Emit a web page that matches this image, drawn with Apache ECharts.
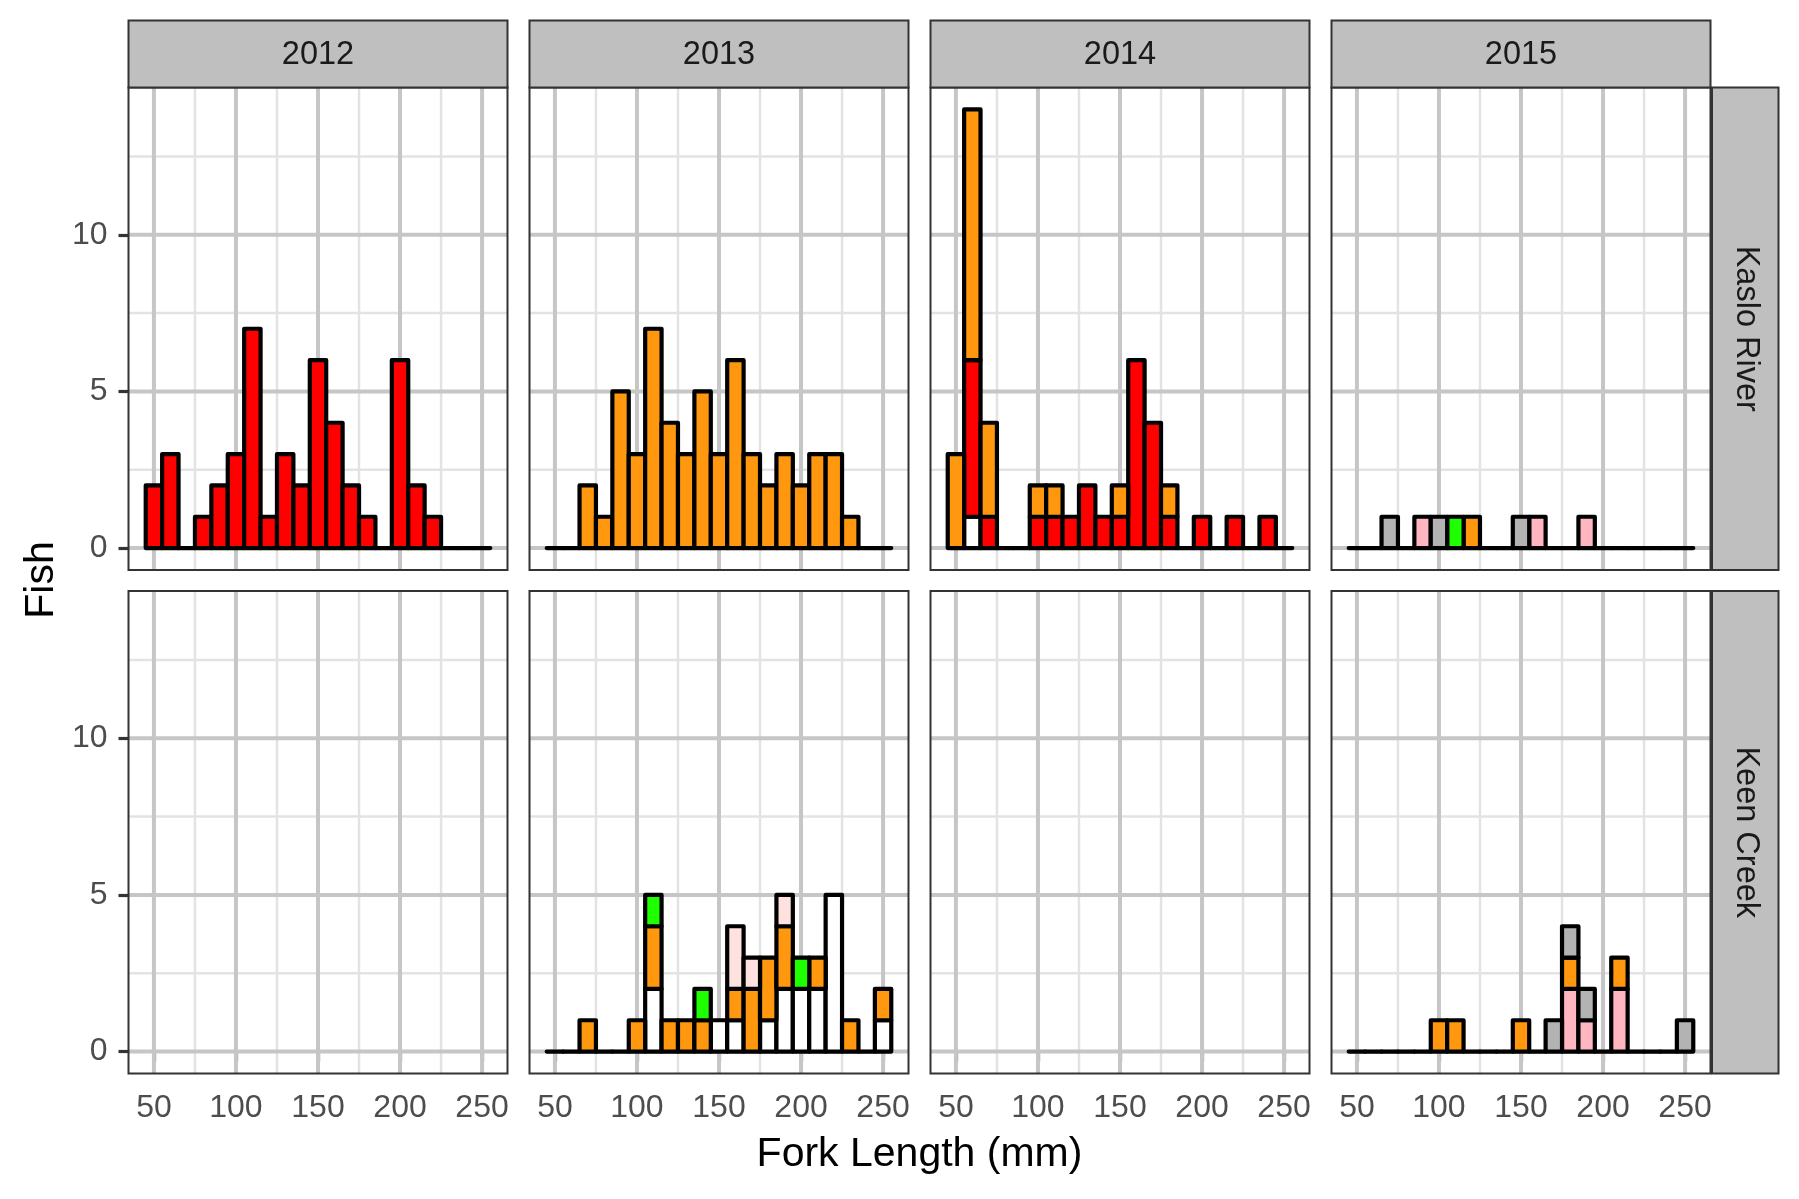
<!DOCTYPE html>
<html><head><meta charset="utf-8">
<script src="https://cdn.jsdelivr.net/npm/echarts@6/dist/echarts.min.js"></script>
<style>html,body{margin:0;padding:0;background:#fff}#c{width:1799px;height:1199px}</style>
</head><body><div id="c"></div>
<script>
// ---------- DATA ----------
const binCenters = [50,60,70,80,90,100,110,120,130,140,150,160,170,180,190,200,210,220,230,240,250];
const years = ['2012','2013','2014','2015'];
const sites = ['Kaslo River','Keen Creek'];
// stacking order, bottom -> top
const groups = ['white','lightpink','red','orange','mistyrose','green','grey'];

const xMajorTicks = [50,100,150,200,250];
const xMinorTicks = [75,125,175,225];
const yMajorTicks = [0,5,10];
const yMinorTicks = [2.5,7.5,12.5];

// counts per bin (bins centred on binCenters)
const kaslo2012_red    = [2,3,0,1,2,3,7,1,3,2,6,4,2,1,0,6,2,1,0,0,0];
const kaslo2013_orange = [0,0,2,1,5,3,7,4,3,5,3,6,3,2,3,2,3,3,1,0,0];
const kaslo2014_white  = [0,1,0,0,0,0,0,0,0,0,0,0,0,0,0,0,0,0,0,0,0];
const kaslo2014_red    = [0,5,1,0,0,1,1,1,2,1,1,6,4,1,0,1,0,1,0,1,0];
const kaslo2014_orange = [3,8,3,0,0,1,1,0,0,0,1,0,0,1,0,0,0,0,0,0,0];
const kaslo2015_grey      = [0,0,1,0,0,1,0,0,0,0,1,0,0,0,0,0,0,0,0,0,0];
const kaslo2015_lightpink = [0,0,0,0,1,0,0,0,0,0,0,1,0,0,1,0,0,0,0,0,0];
const kaslo2015_green     = [0,0,0,0,0,0,1,0,0,0,0,0,0,0,0,0,0,0,0,0,0];
const kaslo2015_orange    = [0,0,0,0,0,0,0,1,0,0,0,0,0,0,0,0,0,0,0,0,0];
const keen2013_white     = [0,0,0,0,0,0,2,0,0,0,1,1,0,1,2,2,2,5,0,0,1];
const keen2013_orange    = [0,0,1,0,0,1,2,1,1,1,0,1,2,2,2,0,1,0,1,0,1];
const keen2013_mistyrose = [0,0,0,0,0,0,0,0,0,0,0,2,1,0,1,0,0,0,0,0,0];
const keen2013_green     = [0,0,0,0,0,0,1,0,0,1,0,0,0,0,0,1,0,0,0,0,0];
const keen2015_lightpink = [0,0,0,0,0,0,0,0,0,0,0,0,0,2,1,0,2,0,0,0,0];
const keen2015_orange    = [0,0,0,0,0,1,1,0,0,0,1,0,0,1,0,0,1,0,0,0,0];
const keen2015_grey      = [0,0,0,0,0,0,0,0,0,0,0,0,1,1,1,0,0,0,0,0,1];

const panelData = {
  'Kaslo River|2012': {red: kaslo2012_red},
  'Kaslo River|2013': {orange: kaslo2013_orange},
  'Kaslo River|2014': {white: kaslo2014_white, red: kaslo2014_red, orange: kaslo2014_orange},
  'Kaslo River|2015': {grey: kaslo2015_grey, lightpink: kaslo2015_lightpink, green: kaslo2015_green, orange: kaslo2015_orange},
  'Keen Creek|2013': {white: keen2013_white, orange: keen2013_orange, mistyrose: keen2013_mistyrose, green: keen2013_green},
  'Keen Creek|2015': {lightpink: keen2015_lightpink, orange: keen2015_orange, grey: keen2015_grey}
};

// ---------- STYLE / LAYOUT ----------
const groupColors = {white:'#FFFFFF', lightpink:'#FFB6C1', red:'#FF0000', orange:'#FF980E', mistyrose:'#FFE1DF', green:'#1EFF00', grey:'#B3B3B3'};
const FONT = '"Liberation Sans", Arial, Helvetica, sans-serif';
const XMIN = 34.5, XMAX = 265.5, YMIN = -0.7, YMAX = 14.7, BINW = 10;
const L = {left0:128.5, colStep:401, panelW:379, tops:[87.5, 591], panelH:482.5,
           stripTop:20.5, stripH:67, rStripX:1712, rStripW:66.5};

function gridRender(params, api){
  const v = api.value(0), vert = api.value(1), major = api.value(2);
  let p0, p1;
  if (vert) { p0 = api.coord([v, YMIN]); p1 = api.coord([v, YMAX]); }
  else { p0 = api.coord([XMIN, v]); p1 = api.coord([XMAX, v]); }
  return {type:'line', silent:true, shape:{x1:p0[0], y1:p0[1], x2:p1[0], y2:p1[1]},
          style:{stroke: major ? '#C6C6C6' : '#E3E3E3', lineWidth: major ? 4 : 2.5}};
}
function barRender(params, api){
  const x = api.value(0), y0 = api.value(1), y1 = api.value(2), ci = api.value(3);
  const p0 = api.coord([x - BINW/2, y0]);
  const p1 = api.coord([x + BINW/2, y1]);
  return {type:'rect', silent:true,
          shape:{x:p0[0], y:p1[1], width:p1[0]-p0[0], height:p0[1]-p1[1]},
          style:{fill: ci >= 0 ? groupColors[groups[ci]] : 'none', stroke:'#000', lineWidth:4.2, lineJoin:'round', lineCap:'round'}};
}

const grids = [], xAxes = [], yAxes = [], series = [], graphic = [];
sites.forEach((site, r) => years.forEach((yr, c) => {
  const g = r*4 + c;
  const left = L.left0 + c*L.colStep, top = L.tops[r];
  grids.push({left:left, top:top, width:L.panelW, height:L.panelH, show:true, backgroundColor:'#fff', borderWidth:0});
  xAxes.push({type:'value', gridIndex:g, min:XMIN, max:XMAX,
    axisLine:{show:false}, splitLine:{show:false},
    axisTick:{show: r===1, length:10, customValues:xMajorTicks, lineStyle:{color:'#333', width:3.2}},
    axisLabel:{show: r===1, customValues:xMajorTicks, margin:19, fontSize:32, color:'#4D4D4D', fontFamily:FONT}});
  yAxes.push({type:'value', gridIndex:g, min:YMIN, max:YMAX,
    axisLine:{show:false}, splitLine:{show:false},
    axisTick:{show: c===0, length:10, customValues:yMajorTicks, lineStyle:{color:'#333', width:3.2}},
    axisLabel:{show: c===0, customValues:yMajorTicks, margin:21, fontSize:32, color:'#4D4D4D', fontFamily:FONT}});
  const gl = [];
  xMinorTicks.forEach(v => gl.push([v,1,0]));
  yMinorTicks.forEach(v => gl.push([v,0,0]));
  xMajorTicks.forEach(v => gl.push([v,1,1]));
  yMajorTicks.forEach(v => gl.push([v,0,1]));
  series.push({type:'custom', xAxisIndex:g, yAxisIndex:g, z:1, silent:true, animation:false, data:gl, renderItem:gridRender});
  const pd = panelData[site + '|' + yr];
  if (pd) {
    const items = [];
    const totals = binCenters.map(() => 0);
    groups.forEach((grp, gi) => {
      const arr = pd[grp]; if (!arr) return;
      arr.forEach((n, i) => { if (n > 0) { items.push([binCenters[i], totals[i], totals[i] + n, gi]); totals[i] += n; } });
    });
    totals.forEach((t, i) => { if (t === 0) items.unshift([binCenters[i], 0, 0, -1]); });
    series.push({type:'custom', xAxisIndex:g, yAxisIndex:g, z:3, silent:true, animation:false, data:items, renderItem:barRender});
  }
  // panel border
  graphic.push({type:'rect', z:100, silent:true, shape:{x:left, y:top, width:L.panelW, height:L.panelH},
                style:{fill:'none', stroke:'#333', lineWidth:2}});
  if (r === 0) {
    graphic.push({type:'rect', z:100, silent:true, shape:{x:left, y:L.stripTop, width:L.panelW, height:L.stripH},
                  style:{fill:'#BFBFBF', stroke:'#333', lineWidth:2}});
    graphic.push({type:'text', z:101, silent:true, x:left + L.panelW/2, y:L.stripTop + L.stripH/2 + 1.5,
                  style:{text:yr, fontSize:32.5, fontFamily:FONT, fill:'#1A1A1A', align:'center', verticalAlign:'middle'}});
  }
  if (c === 3) {
    graphic.push({type:'rect', z:100, silent:true, shape:{x:L.rStripX, y:top, width:L.rStripW, height:L.panelH},
                  style:{fill:'#BFBFBF', stroke:'#333', lineWidth:2}});
    graphic.push({type:'text', z:101, silent:true, x:L.rStripX + L.rStripW/2 + 1, y:top + L.panelH/2, rotation:-Math.PI/2,
                  style:{text:site, fontSize:32.5, fontFamily:FONT, fill:'#1A1A1A', align:'center', verticalAlign:'middle'}});
  }
}));
graphic.push({type:'text', z:101, silent:true, x:919.5, y:1155,
              style:{text:'Fork Length (mm)', fontSize:41, fontFamily:FONT, fill:'#000', align:'center', verticalAlign:'middle'}});
graphic.push({type:'text', z:101, silent:true, x:42, y:580, rotation:Math.PI/2,
              style:{text:'Fish', fontSize:41, fontFamily:FONT, fill:'#000', align:'center', verticalAlign:'middle'}});

const chart = echarts.init(document.getElementById('c'), null, {renderer:'canvas', width:1799, height:1199});
chart.setOption({animation:false, backgroundColor:'#fff', grid:grids, xAxis:xAxes, yAxis:yAxes, series:series, graphic:graphic});
</script></body></html>
